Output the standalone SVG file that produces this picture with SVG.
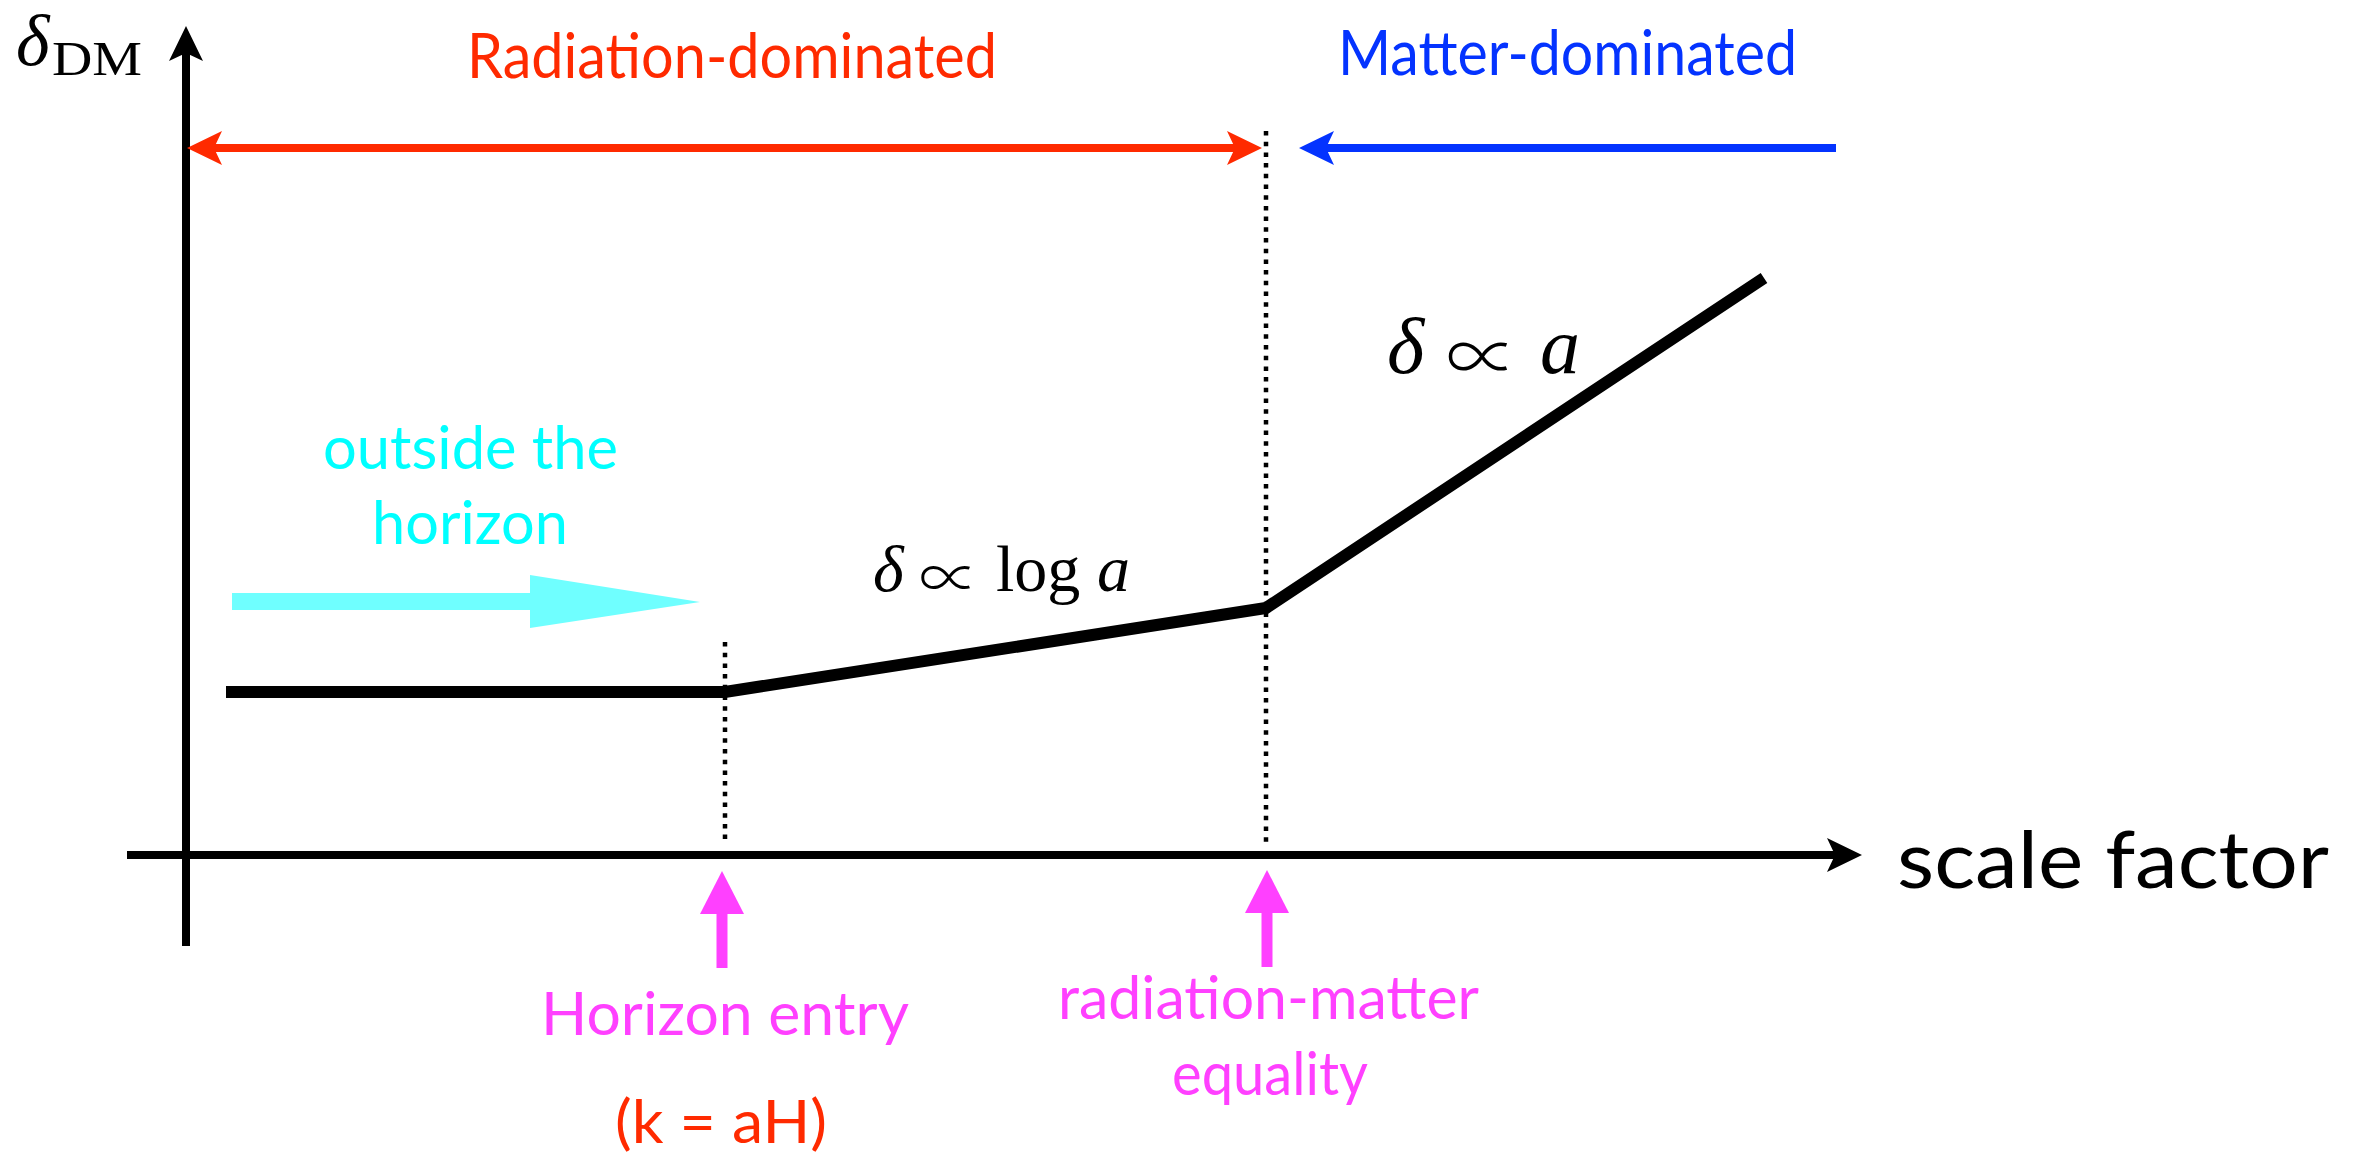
<svg xmlns="http://www.w3.org/2000/svg" width="2365" height="1156" viewBox="0 0 2365 1156">
<style>
.sans{font-family:Lato,"Open Sans","Liberation Sans",sans-serif;}
.math{font-family:"Liberation Serif","DejaVu Serif",serif;fill:#000;}
.prop{font-family:"Noto Sans CJK JP","DejaVu Serif",serif;font-weight:300;fill:#000;text-anchor:middle;}
.it{font-style:italic;}
.red{fill:#FF2A00;}
.blue{fill:#0433FF;}
.pink{fill:#FF40FF;}
.cyan{fill:#00FFFF;}
.dot{stroke:#000;stroke-width:4.5;stroke-dasharray:4.5 6.2;fill:none;}
</style>
<defs>
<marker id="hBlack" markerUnits="userSpaceOnUse" viewBox="-36 -18 37 36" markerWidth="37" markerHeight="36" refX="-27" refY="0" orient="auto-start-reverse">
<path d="M0,0 L-35,-17 L-27,0 L-35,17 Z" fill="#000"/>
</marker>
<marker id="hRed" markerUnits="userSpaceOnUse" viewBox="-36 -18 37 36" markerWidth="37" markerHeight="36" refX="-27" refY="0" orient="auto-start-reverse">
<path d="M0,0 L-35,-17 L-27,0 L-35,17 Z" fill="#FF2A00"/>
</marker>
<marker id="hBlue" markerUnits="userSpaceOnUse" viewBox="-36 -18 37 36" markerWidth="37" markerHeight="36" refX="-27" refY="0" orient="auto-start-reverse">
<path d="M0,0 L-35,-17 L-27,0 L-35,17 Z" fill="#0433FF"/>
</marker>
<marker id="hPink" markerUnits="userSpaceOnUse" viewBox="-44 -23 45 46" markerWidth="45" markerHeight="46" refX="-43" refY="0" orient="auto">
<path d="M0,0 L-43,-22 L-43,22 Z" fill="#FF40FF"/>
</marker>
</defs>

<g id="connectors">
<line id="y-axis" x1="186" y1="946" x2="186" y2="53" stroke="#000" stroke-width="8" marker-end="url(#hBlack)"/>
<line id="x-axis" x1="127" y1="855" x2="1835" y2="855" stroke="#000" stroke-width="8" marker-end="url(#hBlack)"/>
<line id="rad-arrow" x1="214" y1="148" x2="1235" y2="148" stroke="#FF2A00" stroke-width="8" marker-start="url(#hRed)" marker-end="url(#hRed)"/>
<line id="mat-arrow" x1="1836" y1="148" x2="1326" y2="148" stroke="#0433FF" stroke-width="8" marker-end="url(#hBlue)"/>
<line class="dot" x1="725" y1="642" x2="725" y2="845"/>
<line class="dot" x1="1266" y1="131" x2="1266" y2="845"/>
<line x1="722" y1="968" x2="722" y2="914" stroke="#FF40FF" stroke-width="11" marker-end="url(#hPink)"/>
<line x1="1267" y1="967" x2="1267" y2="913" stroke="#FF40FF" stroke-width="11" marker-end="url(#hPink)"/>
<path d="M232,593 L530,593 L530,575 L700,602 L530,628 L530,610 L232,610 Z" fill="#6FFFFF"/>
<polyline points="226,692 725,692 1266,608 1764,278" fill="none" stroke="#000" stroke-width="12" stroke-linejoin="miter"/>
</g>

<g id="y-label">
<text class="math it" x="16" y="65" font-size="72">δ</text>
<text class="math" x="52" y="75" font-size="48" textLength="90" lengthAdjust="spacingAndGlyphs">DM</text>
</g>

<g id="x-label">
<text class="sans" x="1897" y="888" font-size="80" fill="#000" textLength="432" lengthAdjust="spacingAndGlyphs">scale factor</text>
</g>

<g id="radiation-dominated">
<text class="sans red" x="467" y="78" font-size="62" textLength="530" lengthAdjust="spacingAndGlyphs">Radiation-dominated</text>
</g>

<g id="matter-dominated">
<text class="sans blue" x="1338" y="75" font-size="62" textLength="459" lengthAdjust="spacingAndGlyphs">Matter-dominated</text>
</g>

<g id="outside-horizon">
<text class="sans cyan" x="323" y="469" font-size="60" textLength="295" lengthAdjust="spacingAndGlyphs">outside the</text>
<text class="sans cyan" x="372" y="544" font-size="60" textLength="196" lengthAdjust="spacingAndGlyphs">horizon</text>
</g>

<g id="log-label">
<text class="math" y="591" font-size="66"><tspan class="it" x="873">δ</tspan><tspan x="996">log</tspan><tspan class="it" x="1097">a</tspan></text>
<text class="prop" x="949" y="600" font-size="60">∝</text>
</g>

<g id="lin-label">
<text class="math" y="373" font-size="80"><tspan class="it" x="1387">δ</tspan><tspan class="it" x="1540">a</tspan></text>
<text class="prop" x="1482" y="383" font-size="72">∝</text>
</g>

<g id="horizon-entry">
<text class="sans pink" x="541" y="1035" font-size="60" textLength="368" lengthAdjust="spacingAndGlyphs">Horizon entry</text>
<text class="sans red" x="615" y="1143" font-size="60" textLength="212" lengthAdjust="spacingAndGlyphs">(k = aH)</text>
</g>

<g id="equality">
<text class="sans pink" x="1058" y="1019" font-size="60" textLength="421" lengthAdjust="spacingAndGlyphs">radiation-matter</text>
<text class="sans pink" x="1172" y="1095" font-size="60" textLength="196" lengthAdjust="spacingAndGlyphs">equality</text>
</g>
</svg>
